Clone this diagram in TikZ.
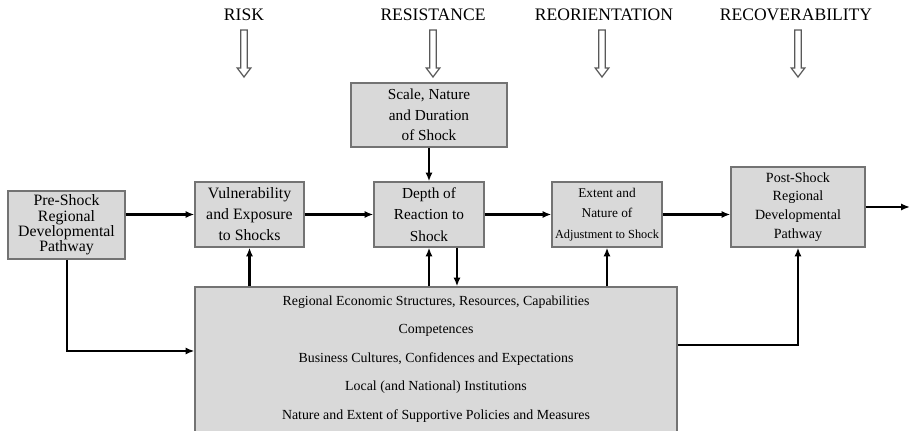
\documentclass[tikz,border=0pt]{standalone}
\usepackage{fontspec}
\setmainfont{Liberation Serif}
\usetikzlibrary{arrows.meta}
\tikzset{
	box/.style={draw=black!55, fill=black!15, line width=0.7pt, align=center, inner sep=1pt},
	link/.style={line width=1.4pt, -{Latex[length=5pt,width=4pt]}},
	stage/.style={font=\fontsize{10}{12}\selectfont},
	hollowdown/.pic={
		\draw[black!65, fill=white, line width=0.7pt] (-3.2,0) -- (-3.2,38) -- (-6.8,38) -- (0,47) -- (6.8,38) -- (3.2,38) -- (3.2,0) -- cycle;
	}
}

\begin{document}
\begin{tikzpicture}[x=0.02cm, y=-0.02cm]
	\useasboundingbox (0,0) rectangle (910,431);
	\node[stage] (risk) at (244,15) {RISK};
	\node[stage] (resist) at (433,15) {RESISTANCE};
	\node[stage] (reorient) at (604,15) {REORIENTATION};
	\node[stage] (recover) at (796,15) {RECOVERABILITY};
	\pic at (244,30) {hollowdown};
	\pic at (433,30) {hollowdown};
	\pic at (602,30) {hollowdown};
	\pic at (798,30) {hollowdown};
	%
	\node[box, minimum width=3.12cm, minimum height=1.28cm, font=\fontsize{8.7}{11.8}\selectfont] (scale) at (429,115) {Scale, Nature\\and Duration\\of Shock};
	\node[box, minimum width=2.34cm, minimum height=1.36cm, font=\fontsize{9}{8.8}\selectfont] (pre) at (66.5,225) {Pre-Shock\\Regional\\Developmental\\Pathway};
	\node[box, minimum width=2.18cm, minimum height=1.3cm, font=\fontsize{9}{12}\selectfont] (vul) at (249.5,214.5) {Vulnerability\\and Exposure\\to Shocks};
	\node[box, minimum width=2.2cm, minimum height=1.3cm, font=\fontsize{8.7}{12.1}\selectfont] (depth) at (429,214.5) {Depth of\\Reaction to\\Shock};
	\node[box, minimum width=2.2cm, minimum height=1.3cm, font=\fontsize{7.6}{11.8}\selectfont] (extent) at (607,214.5) {Extent and\\Nature of\\{\fontsize{7}{11.8}\selectfont Adjustment to Shock}};
	\node[box, minimum width=2.68cm, minimum height=1.6cm, font=\fontsize{8}{10.7}\selectfont] (post) at (798,207) {Post-Shock\\Regional\\Developmental\\Pathway};
	\node[box, minimum width=9.64cm, minimum height=3.3cm] (factors) at (436,369.5) {};
	\foreach \txt [count=\i from 0] in {{Regional Economic Structures, Resources, Capabilities}, Competences, {Business Cultures, Confidences and Expectations}, {Local (and National) Institutions}, {Nature and Extent of Supportive Policies and Measures}}
		\node[font=\fontsize{7.9}{9}\selectfont] (factor\i) at (436,{302+28.5*\i}) {\txt};
	\coordinate (out) at (910,207);
	\coordinate (turnL) at (67,351);
	\coordinate (turnR) at (798,345);
	%
	\draw[link] (pre.east |- vul.west) -- (vul.west);
	\draw[link] (vul.east) -- (depth.west);
	\draw[link] (depth.east) -- (extent.west);
	\draw[link] (extent.east) -- (extent.east -| post.west);
	\draw[link] (post.east) -- (out);
	\draw[link] (scale.south) -- (depth.north);
	\draw[link] (vul.south |- factors.north) -- (vul.south);
	\draw[link] (depth.south |- factors.north) -- (depth.south);
	\draw[link] ([xshift=0.56cm]depth.south) -- ([xshift=0.56cm]depth.south |- factors.north);
	\draw[link] (extent.south |- factors.north) -- (extent.south);
	\draw[link] (pre.south -| turnL) -- (turnL) -- (turnL -| factors.west);
	\draw[link] (turnR -| factors.east) -- (turnR) -- (post.south);
\end{tikzpicture}
\end{document}
